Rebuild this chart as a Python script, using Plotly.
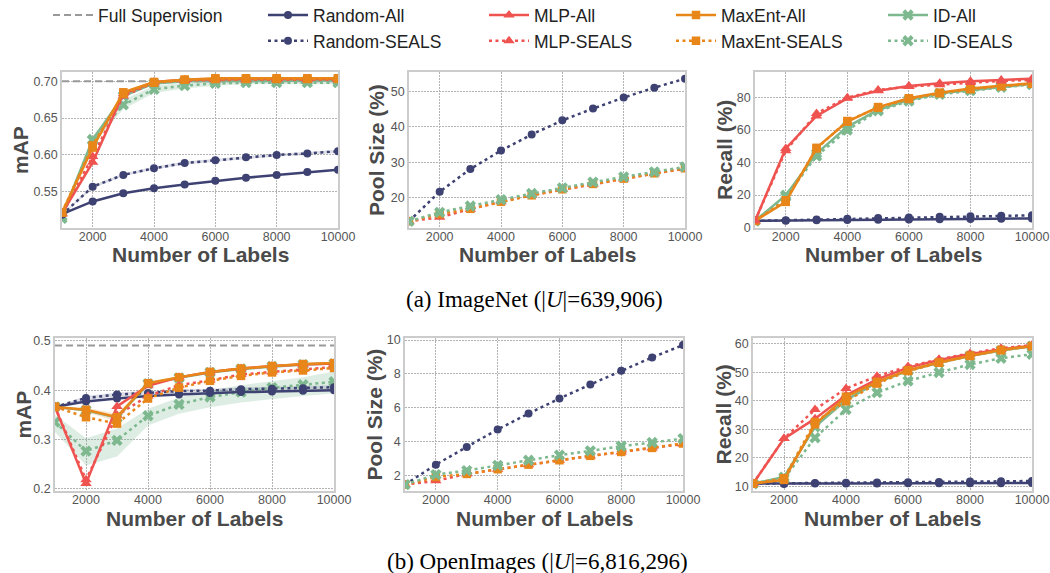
import plotly.graph_objects as go

# ---------------- data ----------------
LABELS = [1000, 2000, 3000, 4000, 5000, 6000, 7000, 8000, 9000, 10000]
X_TICKS = [2000, 4000, 6000, 8000, 10000]

# ImageNet (|U|=639,906) - mAP
IN_FULL_SUP_MAP = 0.700
IN_MAP_RANDOM_ALL = [0.520, 0.537, 0.548, 0.555, 0.560, 0.565, 0.569, 0.573, 0.577, 0.580]
IN_MAP_RANDOM_SEALS = [0.519, 0.557, 0.573, 0.582, 0.589, 0.593, 0.597, 0.600, 0.602, 0.605]
IN_MAP_MLP_ALL = [0.521, 0.590, 0.683, 0.699, 0.702, 0.703, 0.703, 0.703, 0.703, 0.703]
IN_MAP_MLP_SEALS = [0.520, 0.598, 0.680, 0.698, 0.701, 0.702, 0.702, 0.702, 0.702, 0.702]
IN_MAP_MAXENT_ALL = [0.522, 0.610, 0.685, 0.699, 0.702, 0.704, 0.704, 0.704, 0.704, 0.704]
IN_MAP_MAXENT_SEALS = [0.522, 0.613, 0.683, 0.698, 0.702, 0.703, 0.703, 0.703, 0.703, 0.703]
IN_MAP_ID_ALL = [0.517, 0.621, 0.680, 0.697, 0.700, 0.700, 0.701, 0.701, 0.701, 0.701]
IN_MAP_ID_SEALS = [0.514, 0.620, 0.668, 0.689, 0.694, 0.697, 0.698, 0.698, 0.698, 0.698]
IN_MAP_ID_SEALS_LO = [0.512, 0.614, 0.662, 0.684, 0.690, 0.694, 0.696, 0.696, 0.696, 0.696]
IN_MAP_ID_SEALS_HI = [0.516, 0.626, 0.675, 0.694, 0.698, 0.700, 0.700, 0.700, 0.700, 0.700]
IN_MAP_RANDOM_SEALS_LO = [0.518, 0.555, 0.571, 0.580, 0.587, 0.591, 0.595, 0.598, 0.600, 0.603]
IN_MAP_RANDOM_SEALS_HI = [0.520, 0.559, 0.575, 0.584, 0.591, 0.595, 0.599, 0.602, 0.604, 0.607]

# ImageNet - pool size (%)
IN_POOL_RANDOM_SEALS = [13.4, 21.7, 28.1, 33.3, 37.8, 41.8, 45.1, 48.2, 51.0, 53.5]
IN_POOL_MLP_SEALS = [13.4, 14.5, 16.8, 18.9, 20.7, 22.3, 23.8, 25.3, 26.8, 28.2]
IN_POOL_MAXENT_SEALS = [13.4, 15.4, 16.9, 18.9, 20.7, 22.4, 23.9, 25.4, 26.9, 28.3]
IN_POOL_ID_SEALS = [13.4, 15.9, 17.7, 19.5, 21.2, 22.8, 24.4, 25.9, 27.3, 28.7]

# ImageNet - recall (%)
IN_REC_RANDOM_ALL = [4.1, 4.2, 4.4, 4.6, 4.8, 5.0, 5.1, 5.3, 5.4, 5.6]
IN_REC_RANDOM_SEALS = [4.1, 4.5, 5.0, 5.4, 5.8, 6.2, 6.6, 6.9, 7.2, 7.5]
IN_REC_MLP_ALL = [4.1, 48.7, 68.7, 79.6, 84.3, 87.2, 88.8, 90.1, 90.9, 91.7]
IN_REC_MLP_SEALS = [4.1, 47.3, 70.3, 80.0, 84.7, 86.8, 88.0, 89.3, 90.3, 90.9]
IN_REC_MAXENT_ALL = [4.1, 15.8, 49.1, 65.2, 74.2, 79.6, 83.1, 85.6, 87.4, 88.8]
IN_REC_MAXENT_SEALS = [4.1, 16.8, 48.7, 65.6, 73.8, 79.2, 82.7, 85.2, 87.0, 88.5]
IN_REC_ID_ALL = [4.1, 19.9, 45.6, 62.0, 72.4, 78.6, 82.7, 84.7, 86.8, 88.4]
IN_REC_ID_SEALS = [4.1, 18.9, 44.0, 60.0, 71.8, 77.9, 82.0, 84.3, 86.4, 88.0]

# OpenImages (|U|=6,816,296) - mAP
OI_FULL_SUP_MAP = 0.491
OI_MAP_RANDOM_ALL = [0.366, 0.377, 0.383, 0.388, 0.391, 0.394, 0.396, 0.397, 0.399, 0.400]
OI_MAP_RANDOM_SEALS = [0.366, 0.384, 0.391, 0.394, 0.398, 0.399, 0.402, 0.403, 0.404, 0.406]
OI_MAP_MLP_ALL = [0.366, 0.210, 0.367, 0.409, 0.426, 0.437, 0.444, 0.449, 0.452, 0.454]
OI_MAP_MLP_SEALS = [0.366, 0.218, 0.349, 0.388, 0.410, 0.420, 0.432, 0.437, 0.442, 0.447]
OI_MAP_MAXENT_ALL = [0.366, 0.360, 0.345, 0.414, 0.426, 0.437, 0.444, 0.449, 0.453, 0.455]
OI_MAP_MAXENT_SEALS = [0.366, 0.345, 0.332, 0.383, 0.405, 0.419, 0.429, 0.436, 0.440, 0.445]
OI_MAP_ID_ALL = [0.366, 0.359, 0.344, 0.413, 0.425, 0.436, 0.443, 0.448, 0.452, 0.454]
OI_MAP_ID_SEALS = [0.335, 0.276, 0.298, 0.348, 0.371, 0.386, 0.396, 0.405, 0.411, 0.417]
OI_MAP_ID_SEALS_LO = [0.315, 0.247, 0.265, 0.328, 0.352, 0.365, 0.375, 0.382, 0.388, 0.393]
OI_MAP_ID_SEALS_HI = [0.350, 0.302, 0.322, 0.362, 0.385, 0.400, 0.410, 0.418, 0.426, 0.438]
OI_MAP_MAXENT_ALL_LO = [0.366, 0.355, 0.337, 0.410, 0.423, 0.435, 0.442, 0.447, 0.451, 0.453]
OI_MAP_MAXENT_ALL_HI = [0.366, 0.364, 0.352, 0.418, 0.429, 0.439, 0.446, 0.451, 0.455, 0.457]
OI_MAP_RANDOM_SEALS_LO = [0.366, 0.380, 0.387, 0.390, 0.394, 0.395, 0.398, 0.399, 0.400, 0.402]
OI_MAP_RANDOM_SEALS_HI = [0.366, 0.388, 0.395, 0.398, 0.402, 0.403, 0.406, 0.407, 0.408, 0.410]

# OpenImages - pool size (%)
OI_POOL_RANDOM_SEALS = [1.45, 2.63, 3.68, 4.71, 5.65, 6.54, 7.37, 8.18, 8.97, 9.70]
OI_POOL_MLP_SEALS = [1.45, 1.67, 2.08, 2.36, 2.63, 2.89, 3.14, 3.37, 3.61, 3.85]
OI_POOL_MAXENT_SEALS = [1.45, 1.90, 2.08, 2.36, 2.63, 2.89, 3.15, 3.38, 3.62, 3.88]
OI_POOL_ID_SEALS = [1.45, 2.04, 2.28, 2.59, 2.89, 3.19, 3.44, 3.72, 3.94, 4.17]

# OpenImages - recall (%)
OI_REC_RANDOM_ALL = [11.0, 10.9, 11.0, 11.0, 11.0, 11.1, 11.1, 11.1, 11.1, 11.2]
OI_REC_RANDOM_SEALS = [11.0, 11.1, 11.2, 11.3, 11.4, 11.5, 11.6, 11.7, 11.8, 11.9]
OI_REC_MLP_ALL = [11.0, 26.8, 33.8, 42.0, 47.6, 51.7, 54.4, 56.5, 58.1, 59.4]
OI_REC_MLP_SEALS = [11.0, 26.8, 37.0, 44.4, 48.7, 52.1, 54.6, 56.7, 58.5, 59.6]
OI_REC_MAXENT_ALL = [11.0, 12.3, 31.8, 41.5, 46.7, 50.8, 53.5, 55.9, 57.9, 59.3]
OI_REC_MAXENT_SEALS = [11.0, 12.9, 32.6, 39.9, 46.1, 50.5, 53.4, 55.8, 57.8, 59.2]
OI_REC_ID_ALL = [11.0, 13.3, 30.9, 40.3, 46.5, 50.6, 53.4, 55.8, 57.7, 59.2]
OI_REC_ID_SEALS = [11.0, 12.7, 27.1, 37.0, 42.9, 47.0, 50.0, 52.8, 55.0, 56.4]

Y_TITLES = ["mAP", "Pool Size (%)", "Recall (%)", "mAP", "Pool Size (%)", "Recall (%)"]
X_TITLE = "Number of Labels"
CAPTION_A = "(a) ImageNet (|<i>U</i>|=639,906)"
CAPTION_B = "(b) OpenImages (|<i>U</i>|=6,816,296)"

# ---------------- styling ----------------
W, H = 1050, 573
SANS = "Liberation Sans, Arial, sans-serif"
SERIF = "Liberation Serif, Times New Roman, serif"
COLORS = {"Random": "#3e4272", "MLP": "#ef5350", "MaxEnt": "#e8861a", "ID": "#7db88f"}
FILLS = {"Random": "rgba(62,66,114,0.18)", "MaxEnt": "rgba(232,134,26,0.22)",
         "ID": "rgba(125,184,143,0.25)", "MLP": "rgba(239,83,80,0.2)"}
SYMBOLS = {"Random": "circle", "MLP": "triangle-up", "MaxEnt": "square", "ID": "x"}
SIZES = {"Random": 8, "MLP": 10, "MaxEnt": 8.5, "ID": 10}
LEGEND_OF = {"Full": "legend", "Random": "legend2", "MLP": "legend3", "MaxEnt": "legend4", "ID": "legend5"}
DOT = "3px,3.5px"
ITEMW = 40


def fx(p):
    return p / W


def fy(p):
    return 1 - p / H


panels = [
    dict(xd=(62, 338), yd=(72, 228), yr=[0.501, 0.7125], yt=[0.55, 0.60, 0.65, 0.70], fmt=".2f",
         full=IN_FULL_SUP_MAP, tx=21,
         bands=[("Random", IN_MAP_RANDOM_SEALS_LO, IN_MAP_RANDOM_SEALS_HI),
                ("ID", IN_MAP_ID_SEALS_LO, IN_MAP_ID_SEALS_HI)],
         series=[("ID", "All", IN_MAP_ID_ALL), ("ID", "SEALS", IN_MAP_ID_SEALS),
                 ("Random", "All", IN_MAP_RANDOM_ALL), ("Random", "SEALS", IN_MAP_RANDOM_SEALS),
                 ("MLP", "All", IN_MAP_MLP_ALL), ("MLP", "SEALS", IN_MAP_MLP_SEALS),
                 ("MaxEnt", "All", IN_MAP_MAXENT_ALL), ("MaxEnt", "SEALS", IN_MAP_MAXENT_SEALS)]),
    dict(xd=(409, 685), yd=(72, 228), yr=[11.5, 55.4], yt=[20, 30, 40, 50], fmt="d",
         full=None, tx=377, bands=[],
         series=[("Random", "SEALS", IN_POOL_RANDOM_SEALS), ("MLP", "SEALS", IN_POOL_MLP_SEALS),
                 ("MaxEnt", "SEALS", IN_POOL_MAXENT_SEALS), ("ID", "SEALS", IN_POOL_ID_SEALS)]),
    dict(xd=(755, 1032), yd=(72, 228), yr=[-0.3, 95.8], yt=[0, 20, 40, 60, 80], fmt="d",
         full=None, tx=725, bands=[],
         series=[("Random", "All", IN_REC_RANDOM_ALL), ("Random", "SEALS", IN_REC_RANDOM_SEALS),
                 ("ID", "All", IN_REC_ID_ALL), ("ID", "SEALS", IN_REC_ID_SEALS),
                 ("MaxEnt", "All", IN_REC_MAXENT_ALL), ("MaxEnt", "SEALS", IN_REC_MAXENT_SEALS),
                 ("MLP", "All", IN_REC_MLP_ALL), ("MLP", "SEALS", IN_REC_MLP_SEALS)]),
    dict(xd=(55, 334), yd=(338, 491), yr=[0.195, 0.506], yt=[0.2, 0.3, 0.4, 0.5], fmt=".1f",
         full=OI_FULL_SUP_MAP, tx=23,
         bands=[("ID", OI_MAP_ID_SEALS_LO, OI_MAP_ID_SEALS_HI),
                ("Random", OI_MAP_RANDOM_SEALS_LO, OI_MAP_RANDOM_SEALS_HI),
                ("MaxEnt", OI_MAP_MAXENT_ALL_LO, OI_MAP_MAXENT_ALL_HI)],
         series=[("ID", "All", OI_MAP_ID_ALL), ("ID", "SEALS", OI_MAP_ID_SEALS),
                 ("Random", "All", OI_MAP_RANDOM_ALL), ("Random", "SEALS", OI_MAP_RANDOM_SEALS),
                 ("MLP", "All", OI_MAP_MLP_ALL), ("MLP", "SEALS", OI_MAP_MLP_SEALS),
                 ("MaxEnt", "All", OI_MAP_MAXENT_ALL), ("MaxEnt", "SEALS", OI_MAP_MAXENT_SEALS)]),
    dict(xd=(405, 683), yd=(338, 491), yr=[1.07, 10.12], yt=[2, 4, 6, 8, 10], fmt="d",
         full=None, tx=374, bands=[],
         series=[("Random", "SEALS", OI_POOL_RANDOM_SEALS), ("MLP", "SEALS", OI_POOL_MLP_SEALS),
                 ("MaxEnt", "SEALS", OI_POOL_MAXENT_SEALS), ("ID", "SEALS", OI_POOL_ID_SEALS)]),
    dict(xd=(753, 1032), yd=(338, 491), yr=[8.4, 62.1], yt=[10, 20, 30, 40, 50, 60], fmt="d",
         full=None, tx=723, bands=[],
         series=[("Random", "All", OI_REC_RANDOM_ALL), ("Random", "SEALS", OI_REC_RANDOM_SEALS),
                 ("ID", "All", OI_REC_ID_ALL), ("ID", "SEALS", OI_REC_ID_SEALS),
                 ("MLP", "All", OI_REC_MLP_ALL), ("MLP", "SEALS", OI_REC_MLP_SEALS),
                 ("MaxEnt", "All", OI_REC_MAXENT_ALL), ("MaxEnt", "SEALS", OI_REC_MAXENT_SEALS)]),
]

fig = go.Figure()
shown = set()
annotations = []
layout_axes = {}

for i, p in enumerate(panels):
    n = "" if i == 0 else str(i + 1)
    xa, ya = "x" + n, "y" + n
    for m, lo, hi in p["bands"]:
        fig.add_trace(go.Scatter(x=LABELS, y=lo, mode="lines", line=dict(width=0),
                                 showlegend=False, hoverinfo="skip", xaxis=xa, yaxis=ya))
        fig.add_trace(go.Scatter(x=LABELS, y=hi, mode="lines", line=dict(width=0),
                                 fill="tonexty", fillcolor=FILLS[m],
                                 showlegend=False, hoverinfo="skip", xaxis=xa, yaxis=ya))
    if p["full"] is not None:
        name = "Full Supervision"
        fig.add_trace(go.Scatter(x=[LABELS[0], LABELS[-1]], y=[p["full"], p["full"]], mode="lines",
                                 line=dict(color="#999999", width=2, dash="7px,4px"),
                                 name=name, legend=LEGEND_OF["Full"],
                                 showlegend=name not in shown, xaxis=xa, yaxis=ya))
        shown.add(name)
    for m, kind, vals in p["series"]:
        name = f"{m}-{kind}"
        fig.add_trace(go.Scatter(
            x=LABELS, y=vals, mode="lines+markers", name=name,
            line=dict(color=COLORS[m], width=2.5, dash="solid" if kind == "All" else DOT),
            marker=dict(symbol=SYMBOLS[m], size=SIZES[m], color=COLORS[m], line=dict(width=0)),
            legend=LEGEND_OF[m], legendrank=(1 if kind == "All" else 2),
            showlegend=name not in shown, xaxis=xa, yaxis=ya))
        shown.add(name)

    common = dict(showgrid=True, gridcolor="#b3b3b3", griddash="1.5px,1.5px", gridwidth=1,
                  showline=True, linecolor="#cccccc", linewidth=1.5, mirror=True, ticks="",
                  ticklen=0, zeroline=False, fixedrange=True,
                  tickfont=dict(family=SANS, size=12.5, color="#555555"))
    layout_axes["xaxis" + n] = dict(common, domain=[fx(p["xd"][0]), fx(p["xd"][1])],
                                    range=[LABELS[0], LABELS[-1]], tickvals=X_TICKS,
                                    ticktext=[str(t) for t in X_TICKS],
                                    ticklabelstandoff=-4, anchor=ya)
    layout_axes["yaxis" + n] = dict(common, domain=[fy(p["yd"][1]), fy(p["yd"][0])],
                                    range=p["yr"], tickvals=p["yt"], tickformat=p["fmt"],
                                    anchor=xa)
    cy = (p["yd"][0] + p["yd"][1]) / 2
    annotations.append(dict(text="<b>" + Y_TITLES[i] + "</b>", x=fx(p["tx"]), y=fy(cy),
                            xref="paper", yref="paper", showarrow=False, textangle=-90,
                            xanchor="center", yanchor="middle",
                            font=dict(family=SANS, size=21, color="#4a4a4a")))
    cx = (p["xd"][0] + p["xd"][1]) / 2
    ty = 254 if p["yd"][0] < 300 else 518
    annotations.append(dict(text="<b>" + X_TITLE + "</b>", x=fx(cx), y=fy(ty),
                            xref="paper", yref="paper", showarrow=False,
                            xanchor="center", yanchor="middle",
                            font=dict(family=SANS, size=21, color="#4a4a4a")))

annotations.append(dict(text=CAPTION_A, x=fx(534), y=fy(299), xref="paper", yref="paper",
                        showarrow=False, xanchor="center", yanchor="middle",
                        font=dict(family=SERIF, size=23, color="#000000")))
annotations.append(dict(text=CAPTION_B, x=fx(537), y=fy(561), xref="paper", yref="paper",
                        showarrow=False, xanchor="center", yanchor="middle",
                        font=dict(family=SERIF, size=23, color="#000000")))

legend_common = dict(orientation="v", xanchor="left", yanchor="top", y=1.005,
                     bgcolor="rgba(0,0,0,0)", borderwidth=0, itemwidth=ITEMW,
                     traceorder="normal", font=dict(family=SANS, size=17.5, color="#222222"))
legend_text_x = {"legend": 98, "legend2": 313, "legend3": 534, "legend4": 721, "legend5": 933}
legends = {k: dict(legend_common, x=fx(v - ITEMW - 10)) for k, v in legend_text_x.items()}

fig.update_layout(
    width=W, height=H,
    margin=dict(l=0, r=0, t=0, b=0, autoexpand=False),
    paper_bgcolor="white", plot_bgcolor="white",
    annotations=annotations,
    **layout_axes, **legends,
)

fig.write_html("out.html")
